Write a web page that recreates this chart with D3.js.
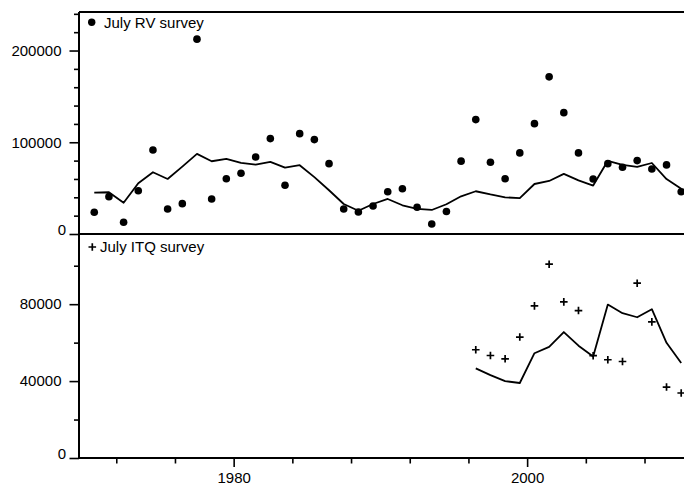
<!DOCTYPE html>
<html>
<head>
<meta charset="utf-8">
<script src="https://cdn.jsdelivr.net/npm/d3@7"></script>
<style>
    body { margin: 0; background: #fff; }
    text { font-family: "Liberation Sans", Arial, sans-serif; font-size: 15px; fill: #000; }
</style>
</head>
<body>
<div id="chart"></div>
<script>
// survey years
var years = [1970, 1971, 1972, 1973, 1974, 1975, 1976, 1977, 1978, 1979,
    1980, 1981, 1982, 1983, 1984, 1985, 1986, 1987, 1988, 1989,
    1990, 1991, 1992, 1993, 1994, 1995, 1996, 1997, 1998, 1999,
    2000, 2001, 2002, 2003, 2004, 2005, 2006, 2007, 2008, 2009, 2010];

// July RV survey (dots)
var rvSurvey = [23700, 40700, 12800, 47200, 91600, 27300, 33100, 212400, 38200, 60300,
    66300, 84000, 104000, 53100, 109400, 102900, 76700, 27300, 24000, 30500,
    46100, 49400, 29100, 10900, 24500, 79400, 124700, 78200, 60300, 88400,
    120300, 171300, 132300, 88400, 60000, 76700, 72800, 80000, 70900, 75300, 46100];

// model fit (line), same for both panels
var modelFit = [45100, 45500, 34100, 55300, 67300, 60000, 73400, 87300, 79300, 82000,
    77500, 75600, 78600, 72300, 75000, 62000, 47700, 32700, 25400, 32700,
    38200, 31300, 27300, 26200, 32400, 41100, 46600, 43100, 40000, 39000,
    54500, 57800, 65500, 58400, 52800, 79800, 75300, 73200, 77400, 59900, 49400];

// July ITQ survey (crosses)
var itqYears = [1996, 1997, 1998, 1999, 2000, 2001, 2002, 2003, 2004, 2005, 2006, 2007, 2008, 2009, 2010];
var itqSurvey = [56300, 53300, 51600, 62900, 79100, 100800, 81200, 76700, 53200, 51100, 50200, 90900, 70800, 36900, 33800];

var topMajor = [0, 100000, 200000];
var topMinor = [20000, 40000, 60000, 80000, 120000, 140000, 160000, 180000, 220000, 240000];
var botMajor = [0, 40000, 80000];
var botMinor = [20000, 60000, 100000];
var xMajor = [1980, 2000];
var xMinor = [1972, 1976, 1984, 1988, 1992, 1996, 2004, 2008];

var svgWidth = 684;
var svgHeight = 487;
var plotLeft = 79;
var plotRight = 690;

var svg = d3.select("#chart")
    .append("svg")
    .attr("width", svgWidth)
    .attr("height", svgHeight);

var xScale = d3.scaleLinear().domain([1969.46, 2011.1]).range([plotLeft, plotRight]);
var yTop = d3.scaleLinear().domain([0, 242000]).range([234, 12]);
var yBot = d3.scaleLinear().domain([0, 116500]).range([458, 234]);

// values are plotted at mid-year
var xMid = y => xScale(y + 0.5);

function leftAxis(scale, major, minor) {
    var g = svg.append("g").attr("transform", `translate(${plotLeft},0)`);
    g.append("g")
        .call(d3.axisLeft(scale).tickValues(minor).tickSize(5).tickFormat(""));
    var maj = g.append("g")
        .call(d3.axisLeft(scale).tickValues(major).tickSize(9.5).tickPadding(8).tickFormat(d3.format("d")));
    // zero sits on its tick, a little further right
    maj.selectAll("text")
        .filter(d => d === 0)
        .attr("x", -13)
        .attr("dy", "0");
    g.selectAll(".domain").remove();
    g.selectAll("line").attr("stroke", "#000").attr("stroke-width", 1.6);
}

leftAxis(yTop, topMajor, topMinor);
leftAxis(yBot, botMajor, botMinor);

var xg = svg.append("g").attr("transform", "translate(0,458)");
xg.append("g").call(d3.axisBottom(xScale).tickValues(xMinor).tickSize(5.5).tickFormat(""));
xg.append("g").call(d3.axisBottom(xScale).tickValues(xMajor).tickSize(9).tickPadding(4).tickFormat(d3.format("d")));
xg.selectAll(".domain").remove();
xg.selectAll("line").attr("stroke", "#000").attr("stroke-width", 1.6);
xg.selectAll("text").attr("y", 24.5).attr("dy", "0");

// frame
var frame = svg.append("g").attr("stroke", "#000").attr("stroke-width", 2);
frame.append("line").attr("x1", plotLeft).attr("x2", plotLeft).attr("y1", yTop.range()[1]).attr("y2", yBot.range()[0]);
frame.append("line").attr("x1", plotLeft).attr("x2", svgWidth).attr("y1", yTop.range()[1]).attr("y2", yTop.range()[1]);
frame.append("line").attr("x1", plotLeft).attr("x2", svgWidth).attr("y1", yTop(0)).attr("y2", yTop(0));
frame.append("line").attr("x1", plotLeft).attr("x2", svgWidth).attr("y1", yBot(0)).attr("y2", yBot(0));

// top panel
var topData = years.map((y, i) => ({year: y, obs: rvSurvey[i], fit: modelFit[i]}));

svg.append("path")
    .datum(topData)
    .attr("fill", "none")
    .attr("stroke", "#000")
    .attr("stroke-width", 1.8)
    .attr("stroke-linejoin", "round")
    .attr("d", d3.line().x(d => xMid(d.year)).y(d => yTop(d.fit)));

svg.append("g").selectAll("circle")
    .data(topData)
    .enter()
    .append("circle")
        .attr("cx", d => xMid(d.year))
        .attr("cy", d => yTop(d.obs))
        .attr("r", 3.8)
        .attr("fill", "#000");

// bottom panel
var botData = itqYears.map((y, i) => ({year: y, obs: itqSurvey[i], fit: modelFit[years.indexOf(y)]}));

svg.append("path")
    .datum(botData)
    .attr("fill", "none")
    .attr("stroke", "#000")
    .attr("stroke-width", 1.8)
    .attr("stroke-linejoin", "round")
    .attr("d", d3.line().x(d => xMid(d.year)).y(d => yBot(d.fit)));

var cross = "M-3.8,0H3.8M0,-3.8V3.8";

svg.append("g").selectAll("path")
    .data(botData)
    .enter()
    .append("path")
        .attr("transform", d => `translate(${xMid(d.year)},${yBot(d.obs)})`)
        .attr("d", cross)
        .attr("stroke", "#000")
        .attr("stroke-width", 1.7)
        .attr("fill", "none");

// legends
svg.append("circle").attr("cx", 91.7).attr("cy", 22.3).attr("r", 3.7).attr("fill", "#000");
svg.append("text").attr("x", 104).attr("y", 27.5).text("July RV survey");

svg.append("path").attr("transform", "translate(92.3,247)").attr("d", cross)
    .attr("stroke", "#000").attr("stroke-width", 1.7);
svg.append("text").attr("x", 100).attr("y", 252).text("July ITQ survey");
</script>
</body>
</html>
